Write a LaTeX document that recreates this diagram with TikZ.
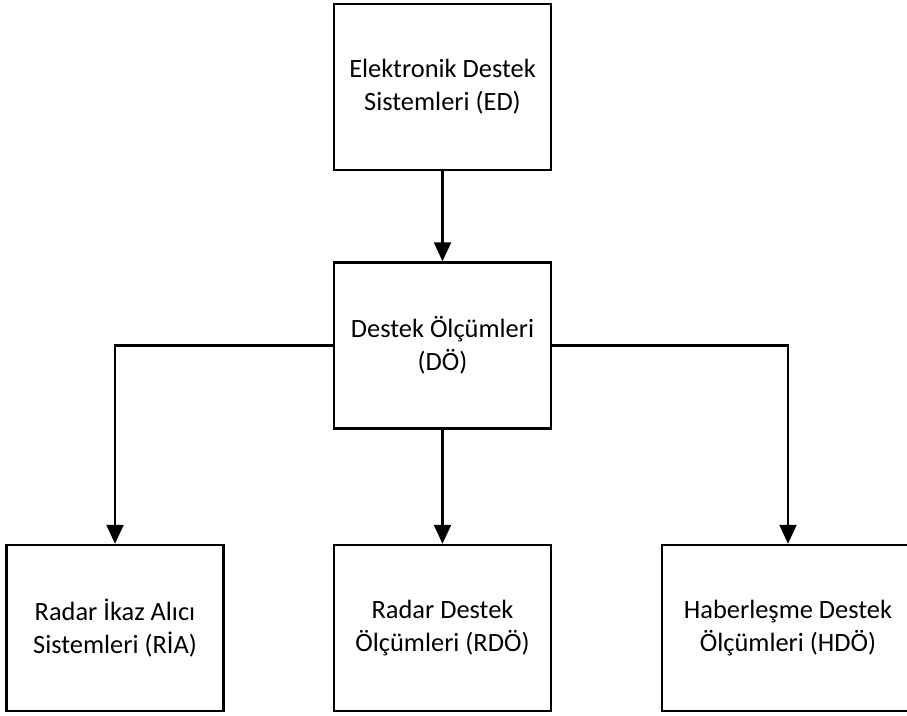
\documentclass[tikz,border=0pt]{standalone}
\usepackage{fontspec}
\setmainfont{Carlito}
\usetikzlibrary{arrows.meta}
\begin{document}
\begin{tikzpicture}[x=1pt,y=-1pt,
  box/.style={draw, line width=2.5pt, minimum width=217pt, minimum height=166pt,
    align=center, inner sep=0pt, font=\fontsize{26.4}{33}\selectfont},
  link/.style={line width=2.4pt, -{Triangle[length=19pt,width=17pt]}}]
\clip (0,0) rectangle (907,715);
% hierarchy boxes
\node[box] (ed)  at (442.5,87)  {Elektronik Destek\\Sistemleri (ED)};
\node[box] (do)  at (442.5,345.5) {Destek Ölçümleri\\(DÖ)};
\node[box] (ria) at (115,628)   {Radar İkaz Alıcı\\Sistemleri (RİA)};
\node[box] (rdo) at (442.5,628) {Radar Destek\\Ölçümleri (RDÖ)};
\node[box, minimum width=252pt] (hdo) at (788,628) {Haberleşme Destek\\Ölçümleri (HDÖ)};
% connectors
\draw[link] (ed) -- (do);
\draw[link] (do) -- (rdo);
\draw[link] (do.west) -| (ria.north);
\draw[link] (do.east) -| (hdo.north);
\end{tikzpicture}
\end{document}
